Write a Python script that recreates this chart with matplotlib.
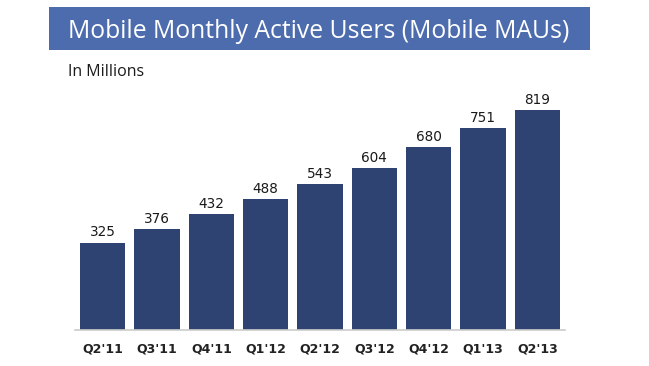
import matplotlib.pyplot as plt
from matplotlib.patches import Rectangle

# --- Data ---
quarters = ["Q2'11", "Q3'11", "Q4'11", "Q1'12", "Q2'12", "Q3'12", "Q4'12", "Q1'13", "Q2'13"]
mobile_maus = [325, 376, 432, 488, 543, 604, 680, 751, 819]

BAR_COLOR = "#2f4372"
BANNER_COLOR = "#4d6cae"

fig = plt.figure(figsize=(6.49, 3.66), dpi=100)
fig.patch.set_facecolor("white")

# title banner
banner = Rectangle((49 / 649, 1 - 50 / 366), (590 - 49) / 649, 43 / 366,
                   transform=fig.transFigure, facecolor=BANNER_COLOR,
                   edgecolor="none", zorder=0)
fig.patches.append(banner)
fig.text(319 / 649, 1 - 31 / 366, "Mobile Monthly Active Users (Mobile MAUs)",
         color="white", fontsize=17.8, family="Open Sans",
         ha="center", va="center")
fig.text(68 / 649, 1 - 72 / 366, "In Millions", color="#1a1a1a",
         fontsize=11.5, family="Open Sans", ha="left", va="center")

ax = fig.add_axes([75 / 649, 36 / 366, 490 / 649, 241.7 / 366])
x = range(len(quarters))
bars = ax.bar(x, mobile_maus, width=0.83, color=BAR_COLOR, zorder=2)

for b, v in zip(bars, mobile_maus):
    ax.text(b.get_x() + b.get_width() / 2, v + 12, str(v),
            ha="center", va="bottom", fontsize=9.8, color="#1a1a1a")

ax.set_xlim(-0.51, 8.51)
ax.set_ylim(0, 900)
ax.set_xticks(list(x))
ax.set_xticklabels(quarters, fontsize=9, fontweight="bold", color="#222222")
ax.tick_params(axis="x", length=0, pad=9)
ax.set_yticks([])
for side in ["top", "right", "left"]:
    ax.spines[side].set_visible(False)
ax.spines["bottom"].set_color("#cccccc")
ax.spines["bottom"].set_linewidth(1.2)
ax.set_facecolor("none")

fig.savefig("out.png", dpi=100)
